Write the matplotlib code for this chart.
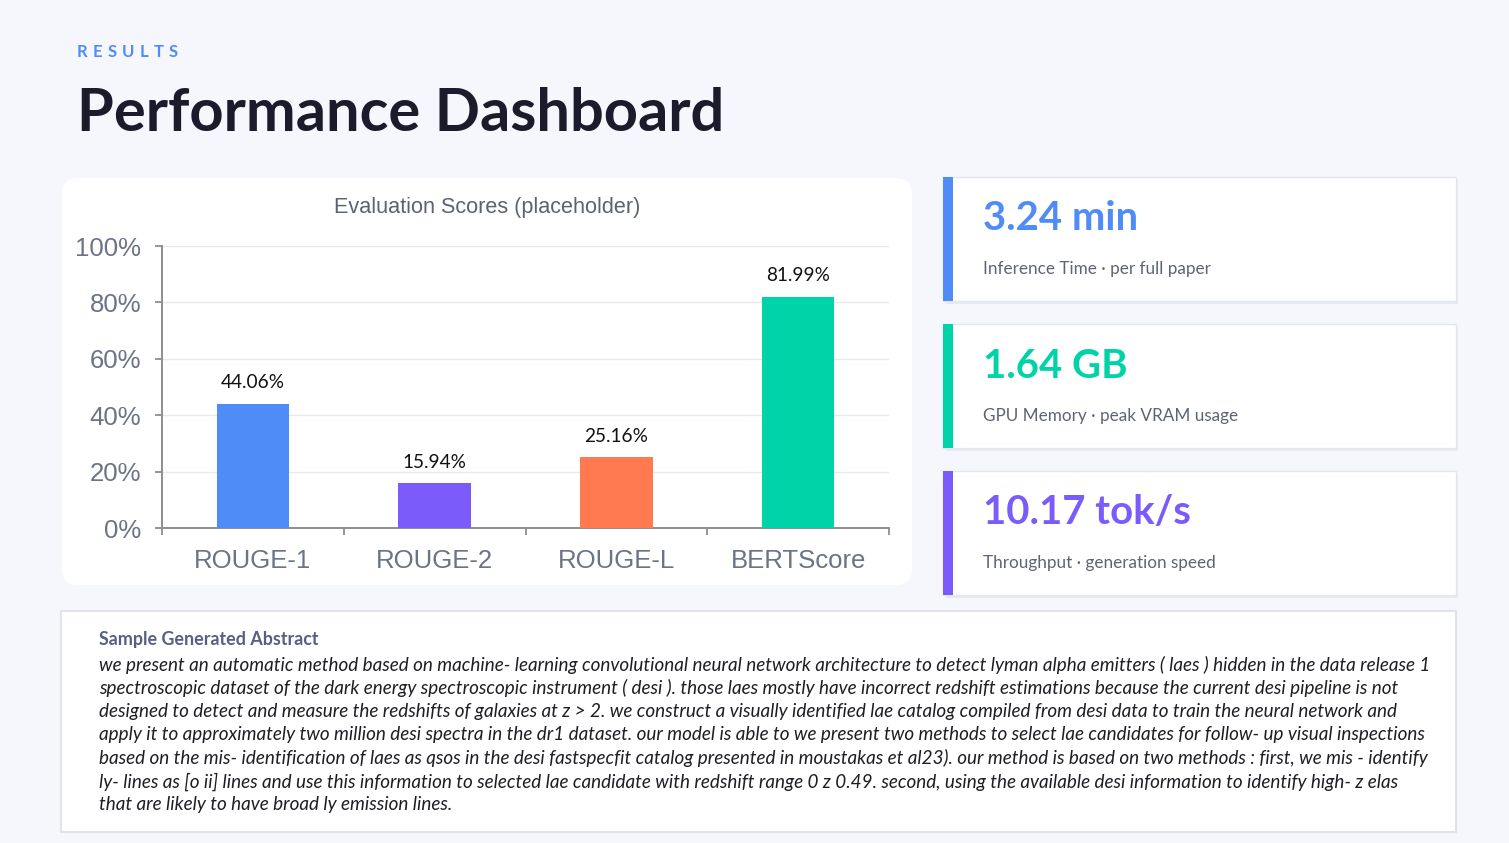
import matplotlib
matplotlib.use("Agg")
import matplotlib.pyplot as plt
from matplotlib.patches import FancyBboxPatch, Rectangle
from matplotlib.ticker import FixedLocator

# ---------------- data ----------------
categories = ["ROUGE-1", "ROUGE-2", "ROUGE-L", "BERTScore"]
scores = [44.06, 15.94, 25.16, 81.99]
bar_colors = ["#4F8CF7", "#7B5CFA", "#FF7A50", "#00D3A7"]
y_ticks = [0, 20, 40, 60, 80, 100]
y_tick_labels = ["0%", "20%", "40%", "60%", "80%", "100%"]
chart_title = "Evaluation Scores (placeholder)"

metric_values = ["3.24 min", "1.64 GB", "10.17 tok/s"]
metric_labels = ["Inference Time · per full paper",
                 "GPU Memory · peak VRAM usage",
                 "Throughput · generation speed"]
metric_colors = ["#4F8CF7", "#00D3A7", "#7B5CFA"]

header_kicker = "RESULTS"
header_title = "Performance Dashboard"

abstract_title = "Sample Generated Abstract"
abstract_lines = [
    "we present an automatic method based on machine- learning convolutional neural network architecture to detect lyman alpha emitters ( laes ) hidden in the data release 1",
    "spectroscopic dataset of the dark energy spectroscopic instrument ( desi ). those laes mostly have incorrect redshift estimations because the current desi pipeline is not",
    "designed to detect and measure the redshifts of galaxies at z > 2. we construct a visually identified lae catalog compiled from desi data to train the neural network and",
    "apply it to approximately two million desi spectra in the dr1 dataset. our model is able to we present two methods to select lae candidates for follow- up visual inspections",
    "based on the mis- identification of laes as qsos in the desi fastspecfit catalog presented in moustakas et al23). our method is based on two methods : first, we mis - identify",
    "ly- lines as [o ii] lines and use this information to selected lae candidate with redshift range 0 z 0.49. second, using the available desi information to identify high- z elas",
    "that are likely to have broad ly emission lines.",
]

# ---------------- styling ----------------
BG = "#F6F7FC"
FONT = "Lato"
ARIAL = "Liberation Sans"
AXIS_GRAY = "#8E8E8E"
TICK_GRAY = "#6B7385"

W, H = 1509, 843
fig = plt.figure(figsize=(W / 100, H / 100), dpi=100)
fig.patch.set_facecolor(BG)

bg = fig.add_axes([0, 0, 1, 1])
bg.set_xlim(0, W)
bg.set_ylim(H, 0)
bg.axis("off")
bg.set_facecolor(BG)

renderer = fig.canvas.get_renderer()


def text_width_px(t):
    return t.get_window_extent(renderer=renderer).width


# header kicker with letter spacing
kx = 77
chars = []
for ch in header_kicker:
    t = bg.text(kx, 52, ch, fontsize=12, fontweight="bold", color="#4F8CF7",
                family=FONT, va="center", ha="left")
    chars.append(t)
widths = [text_width_px(t) for t in chars]
track = (101 - sum(widths)) / (len(chars) - 1)
x = kx
for t, w in zip(chars, widths):
    t.set_x(x)
    x += w + track

# main title
tt = bg.text(77, 114, header_title, fontsize=44, fontweight="bold",
             color="#1B1B2B", family=FONT, va="center", ha="left")
tw = text_width_px(tt)
tt.set_fontsize(44 * 647 / tw)

# chart card
bg.add_patch(FancyBboxPatch((62, 178), 850, 407,
                            boxstyle="round,pad=0,rounding_size=16",
                            fc="white", ec="none", zorder=1))
bg.text(487, 207, chart_title, fontsize=15.6, color="#5B6270", family=ARIAL,
        ha="center", va="center", zorder=2)

# metric cards
card_tops = [177, 324, 471]
for y0, val, lab, col in zip(card_tops, metric_values, metric_labels, metric_colors):
    bg.add_patch(Rectangle((946, y0 + 3), 512, 124, fc="#E8EAF1", ec="none", zorder=1))
    bg.add_patch(Rectangle((943, y0), 513, 124, fc="white", ec="#E4E6EE", lw=1, zorder=2))
    bg.add_patch(Rectangle((943, y0), 10, 124, fc=col, ec="none", zorder=3))
    bg.text(983, y0 + 42, val, fontsize=28.8, fontweight="bold", color=col,
            family=FONT, ha="left", va="center", zorder=4)
    bg.text(983, y0 + 92, lab, fontsize=12.3, color="#5F6475",
            family=FONT, ha="left", va="center", zorder=4)

# abstract card
bg.add_patch(Rectangle((61, 611), 1395, 221, fc="white", ec="#E1E3EA", lw=1.5, zorder=1))
bg.text(99, 639, abstract_title, fontsize=12.9, fontweight="bold", color="#5A5E84",
        family=FONT, ha="left", va="center", zorder=2)
body = []
for i, line in enumerate(abstract_lines):
    t = bg.text(99, 665 + i * 23.3, line, fontsize=12.5, style="italic",
                color="#1E1E24", family=FONT, ha="left", va="center", zorder=2)
    body.append(t)
w0 = text_width_px(body[0])
fs = 12.5 * 1339 / w0
for t in body:
    t.set_fontsize(fs)

# ---------------- bar chart ----------------
ax = fig.add_axes([162 / W, 1 - 528 / H, 727 / W, 282 / H])
ax.set_facecolor("none")
xs = list(range(len(categories)))
bars = ax.bar(xs, scores, width=0.4, color=bar_colors, zorder=3)
ax.set_xlim(-0.5, len(categories) - 0.5)
ax.set_ylim(0, 100)
ax.set_yticks(y_ticks)
ax.set_yticklabels(y_tick_labels, family=ARIAL, fontsize=18.5, color=TICK_GRAY)
ax.set_xticks(xs)
ax.set_xticklabels(categories, family=ARIAL, fontsize=18.5, color=TICK_GRAY)
ax.xaxis.set_minor_locator(FixedLocator([i - 0.5 for i in range(len(categories) + 1)]))
ax.tick_params(axis="x", which="major", length=0, pad=15)
ax.tick_params(axis="x", which="minor", length=5, width=1.3, color=AXIS_GRAY, direction="out")
ax.tick_params(axis="y", which="major", length=5, width=1.3, color=AXIS_GRAY, pad=10)
for s in ["top", "right"]:
    ax.spines[s].set_visible(False)
for s in ["left", "bottom"]:
    ax.spines[s].set_color(AXIS_GRAY)
    ax.spines[s].set_linewidth(1.4)
ax.yaxis.grid(True, color="#E9E9EC", lw=1)
ax.set_axisbelow(True)
for b, v in zip(bars, scores):
    ax.annotate(f"{v:.2f}%", (b.get_x() + b.get_width() / 2, v),
                xytext=(0, 9), textcoords="offset points", ha="center", va="bottom",
                fontsize=13.7, family=FONT, color="#111111")

fig.savefig("out.png", dpi=100, facecolor=BG)
